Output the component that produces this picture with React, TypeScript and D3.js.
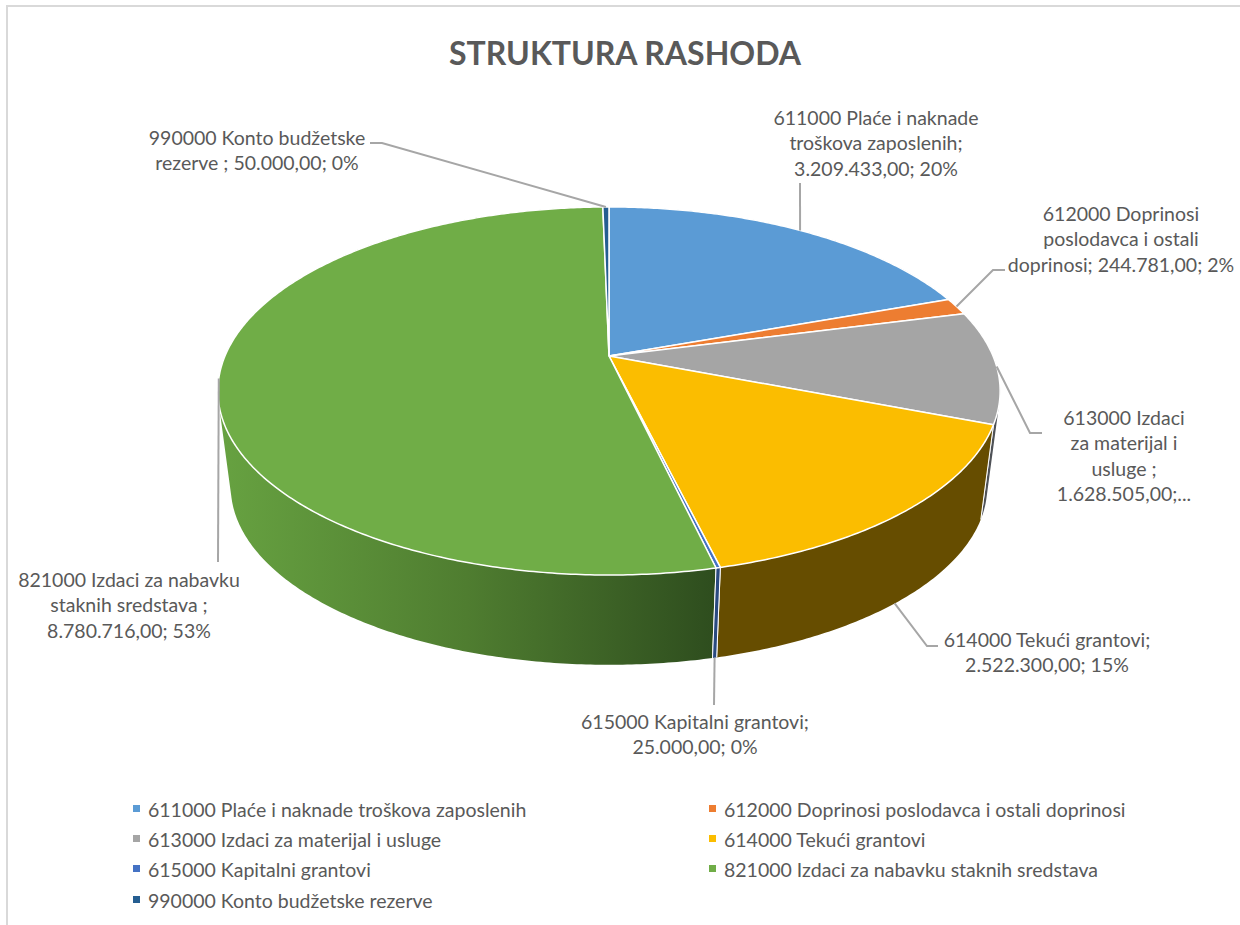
import React from "react";
import * as d3 from "d3";

const chartTitle = "STRUKTURA RASHODA";
const categories = [
  "611000 Plaće i naknade troškova zaposlenih",
  "612000 Doprinosi poslodavca i ostali doprinosi",
  "613000 Izdaci za materijal i usluge",
  "614000 Tekući grantovi",
  "615000 Kapitalni grantovi",
  "821000 Izdaci za nabavku staknih sredstava",
  "990000 Konto budžetske rezerve",
];
const values = [3209433, 244781, 1628505, 2522300, 25000, 8780716, 50000];
const topColors = ["#5b9bd5", "#ed7d31", "#a5a5a5", "#fbbd00", "#4472c4", "#70ad47", "#255e91"];
const wallColors = ["#375e80", "#8e4b1d", "#4f5257", "#664d00", "#2a4a80", "url(#greenWall)", "#16385a"];
const labelLines = [
  ["611000 Plaće i naknade", "troškova zaposlenih;", "3.209.433,00; 20%"],
  ["612000 Doprinosi", "poslodavca i ostali", "doprinosi; 244.781,00; 2%"],
  ["613000 Izdaci", "za materijal i", "usluge ;", "1.628.505,00;..."],
  ["614000 Tekući grantovi;", "2.522.300,00; 15%"],
  ["615000 Kapitalni grantovi;", "25.000,00; 0%"],
  ["821000 Izdaci za nabavku", "staknih sredstava ;", "8.780.716,00; 53%"],
  ["990000 Konto budžetske", "rezerve ; 50.000,00; 0%"],
];

// layout
const W = 1240;
const H = 925;
const FONT = "Lato, Carlito, sans-serif";
const TEXT = "#595959";
const LEADER = "#a6a6a6";
const cx = 609;
const cyTop = 356;
const cyLow = 453;
const persp = 0.19;
const halfW = 384;
const halfH = 177.4;
const lowScale = 0.967;
const LABEL_SIZE = 19.5;

const labelX = [876, 1121, 1124, 1047, 695, 129, 257];
const labelY = [117, 213, 417, 639, 721, 579, 137];
const labelStep = 25.6;
// the point where each leader leaves the pie: on the lower rim when the slice faces front
const leaderOnLow = [false, false, false, true, true, false, false];
const leaderTail: [number, number][][] = [
  [[800, 183]],
  [[993, 270], [1005, 270]],
  [[1030, 433], [1042, 433]],
  [[927, 646], [938, 646]],
  [[714, 705]],
  [[218, 562]],
  [[382, 143], [370, 143]],
];
const legendRowY = [809, 839, 869, 900];
const legendColX = [133, 709];

function project(angle: number, low: boolean): [number, number] {
  const u = Math.sin(angle);
  const v = -Math.cos(angle);
  const w = 1 - persp * v;
  const s = low ? lowScale : 1;
  return [cx + (s * halfW * u) / w, (low ? cyLow : cyTop) + (s * halfH * v) / w];
}

function rim(a0: number, a1: number, low: boolean): [number, number][] {
  const n = Math.max(2, Math.ceil((a1 - a0) / 0.01));
  return d3.range(n + 1).map((i) => project(a0 + ((a1 - a0) * i) / n, low));
}

const linePath = d3.line<[number, number]>().x((d) => d[0]).y((d) => d[1]);

// a wall is the union of small quads between the rims, so that it also fills out to the silhouette
function wallPath(a0: number, a1: number): string {
  const top = rim(a0, a1, false);
  const low = rim(a0, a1, true);
  return d3
    .range(top.length - 1)
    .map((i) => {
      const quad: [number, number][] = [top[i], top[i + 1], low[i + 1], low[i]];
      if (d3.polygonArea(quad) < 0) quad.reverse();
      return linePath(quad) + "Z";
    })
    .join("");
}

export default function App() {
  const arcs = d3.pie<number>().sort(null)(values);
  const center: [number, number] = [cx, cyTop];
  const wallOrder = [0, 1, 6, 2, 5, 3, 4];

  return (
    <svg
      width={W}
      height={H}
      viewBox={`0 0 ${W} ${H}`}
      style={{ position: "absolute", left: 0, top: 0, display: "block", background: "#fff" }}
    >
      <defs>
        <linearGradient id="greenWall" x1="0" x2="1" y1="0" y2="0">
          <stop offset="0" stopColor="#67a241" />
          <stop offset="0.5" stopColor="#4f7d30" />
          <stop offset="1" stopColor="#2e4d1e" />
        </linearGradient>
      </defs>
      <path d={`M${W},6 H7 V${H}`} fill="none" stroke="#d9d9d9" strokeWidth={2} />

      <text
        x={625}
        y={52}
        textAnchor="middle"
        dominantBaseline="central"
        fontFamily={FONT}
        fontWeight={700}
        fontSize={32}
        fill={TEXT}
      >
        {chartTitle}
      </text>

      {wallOrder.map((i) => {
        const a = arcs[i];
        const edges = [a.startAngle, a.endAngle]
          .map((t) => linePath([project(t, false), project(t, true)]))
          .join("");
        return (
          <g key={i}>
            <path d={wallPath(a.startAngle, a.endAngle)} fill={wallColors[i]} />
            <path d={edges} fill="none" stroke="#fff" strokeWidth={1} />
          </g>
        );
      })}

      {arcs.map((a, i) => (
        <path
          key={i}
          d={linePath([center, ...rim(a.startAngle, a.endAngle, false)]) + "Z"}
          fill={topColors[i]}
          stroke="#fff"
          strokeWidth={1.5}
          strokeLinejoin="round"
        />
      ))}

      {arcs.map((a, i) => {
        const start = project((a.startAngle + a.endAngle) / 2, leaderOnLow[i]);
        return (
          <path
            key={i}
            d={linePath([start, ...leaderTail[i]]) as string}
            fill="none"
            stroke={LEADER}
            strokeWidth={2}
          />
        );
      })}

      {labelLines.map((lines, i) => (
        <text
          key={i}
          textAnchor="middle"
          fontFamily={FONT}
          fontSize={LABEL_SIZE}
          fill={TEXT}
        >
          {lines.map((line, j) => (
            <tspan key={j} x={labelX[i]} y={labelY[i] + j * labelStep} dominantBaseline="central">
              {line}
            </tspan>
          ))}
        </text>
      ))}

      {categories.map((c, i) => {
        const row = legendRowY[Math.floor(i / 2)];
        const col = legendColX[i % 2];
        return (
          <g key={i}>
            <rect x={col} y={row - 4} width={7} height={7} fill={topColors[i]} />
            <text
              x={col + 15}
              y={row}
              dominantBaseline="central"
              fontFamily={FONT}
              fontSize={LABEL_SIZE}
              fill={TEXT}
            >
              {c}
            </text>
          </g>
        );
      })}
    </svg>
  );
}
